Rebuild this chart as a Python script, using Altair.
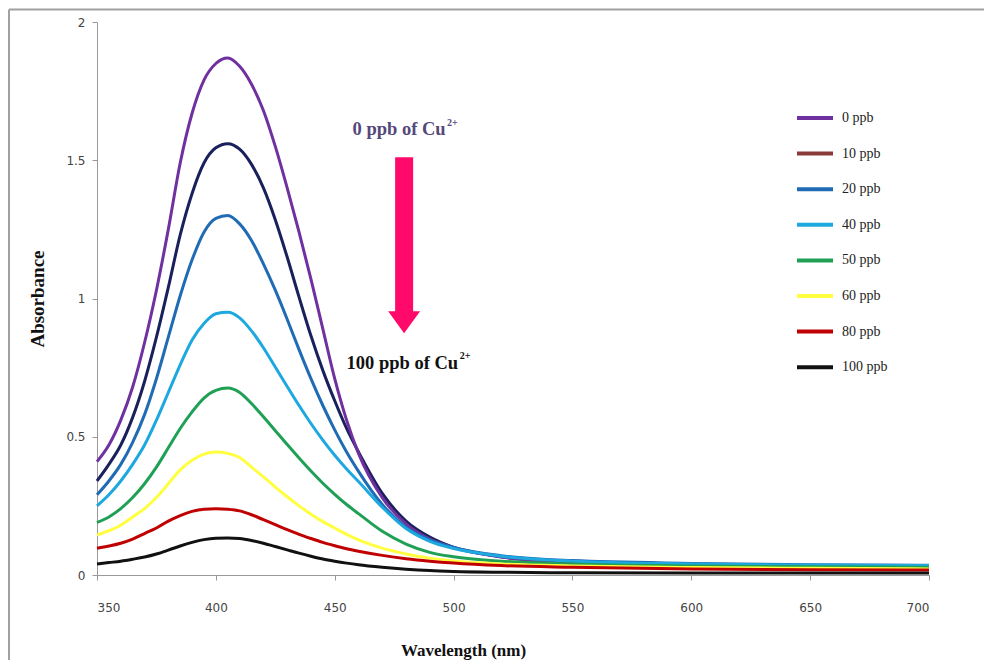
import altair as alt
import pandas as pd

# ---------------- data ----------------
wavelength = [350, 355, 360, 365, 370, 375, 380, 385, 390, 395, 400, 405, 410, 415,
              420, 425, 430, 435, 440, 445, 450, 455, 460, 470, 480, 490, 500, 520,
              550, 600, 650, 700]

abs_0 = [0.41, 0.47, 0.56, 0.68, 0.84, 1.03, 1.25, 1.49, 1.67, 1.79, 1.85, 1.87, 1.84, 1.775,
         1.68, 1.55, 1.40, 1.24, 1.07, 0.89, 0.71, 0.56, 0.44, 0.28, 0.185, 0.13, 0.10, 0.065,
         0.045, 0.035, 0.030, 0.028]
abs_10 = [0.34, 0.40, 0.47, 0.57, 0.70, 0.86, 1.04, 1.23, 1.38, 1.49, 1.545, 1.56, 1.54, 1.485,
          1.40, 1.285, 1.15, 1.005, 0.865, 0.74, 0.63, 0.53, 0.445, 0.295, 0.195, 0.137, 0.10, 0.066,
          0.047, 0.036, 0.031, 0.029]
abs_20 = [0.29, 0.34, 0.40, 0.48, 0.58, 0.71, 0.86, 1.01, 1.14, 1.24, 1.29, 1.30, 1.27, 1.21,
          1.125, 1.03, 0.925, 0.815, 0.71, 0.613, 0.525, 0.445, 0.375, 0.255, 0.173, 0.127, 0.10, 0.07,
          0.052, 0.042, 0.037, 0.035]
abs_40 = [0.25, 0.29, 0.34, 0.40, 0.47, 0.56, 0.66, 0.76, 0.85, 0.91, 0.945, 0.95, 0.93, 0.883,
          0.822, 0.752, 0.682, 0.613, 0.548, 0.488, 0.433, 0.383, 0.338, 0.245, 0.168, 0.122, 0.096, 0.068,
          0.05, 0.04, 0.036, 0.034]
abs_50 = [0.19, 0.21, 0.24, 0.28, 0.33, 0.39, 0.46, 0.53, 0.59, 0.64, 0.668, 0.676, 0.66, 0.62,
          0.572, 0.522, 0.472, 0.423, 0.376, 0.332, 0.292, 0.255, 0.222, 0.158, 0.112, 0.082, 0.066, 0.05,
          0.04, 0.033, 0.03, 0.028]
abs_60 = [0.145, 0.16, 0.18, 0.21, 0.24, 0.28, 0.33, 0.38, 0.415, 0.437, 0.445, 0.44, 0.425, 0.39,
          0.355, 0.318, 0.283, 0.25, 0.22, 0.193, 0.17, 0.147, 0.127, 0.097, 0.076, 0.061, 0.051, 0.04,
          0.033, 0.027, 0.024, 0.022]
abs_80 = [0.097, 0.105, 0.115, 0.13, 0.15, 0.17, 0.195, 0.215, 0.23, 0.238, 0.24, 0.238, 0.232, 0.218,
          0.20, 0.182, 0.164, 0.147, 0.132, 0.118, 0.106, 0.095, 0.086, 0.071, 0.059, 0.05, 0.043, 0.034,
          0.028, 0.022, 0.019, 0.018]
abs_100 = [0.04, 0.045, 0.05, 0.057, 0.065, 0.076, 0.09, 0.105, 0.118, 0.128, 0.133, 0.134, 0.132, 0.125,
           0.115, 0.103, 0.091, 0.079, 0.068, 0.058, 0.05, 0.043, 0.037, 0.028, 0.021, 0.016, 0.013, 0.01,
           0.008, 0.007, 0.007, 0.007]

series_labels = ["0 ppb", "10 ppb", "20 ppb", "40 ppb", "50 ppb", "60 ppb", "80 ppb", "100 ppb"]
legend_colors = ["#7030A0", "#8B3A3A", "#1F6BB4", "#1EA8E0", "#1FA055", "#FFFF40", "#C00000", "#111111"]
curve_10ppb_color = "#1A205C"

x_ticks = [350, 400, 450, 500, 550, 600, 650, 700]
y_ticks = [0, 0.5, 1, 1.5, 2]

annot_main = ["0 ppb of Cu", "100 ppb of Cu"]
annot_x = [457.5, 455.0]
annot_y = [1.59, 0.745]
sup_x = [497.2, 502.6]
sup_y = [1.625, 0.78]

arrow_x = [479.2]
arrow_y = [1.193]

# ---------------- build table ----------------
all_vals = [abs_0, abs_10, abs_20, abs_40, abs_50, abs_60, abs_80, abs_100]
rows = []
for lab, vals in zip(series_labels, all_vals):
    for w, a in zip(wavelength, vals):
        rows.append({"Wavelength": w, "Absorbance": a, "Series": lab})
df = pd.DataFrame(rows)

x_enc = alt.X(
    "Wavelength:Q",
    scale=alt.Scale(domain=[350, 700], nice=False, zero=False),
    axis=alt.Axis(
        values=x_ticks, title="Wavelength (nm)", grid=False,
        titleFont="Liberation Serif", titleFontSize=17, titleFontWeight="bold", titleColor="#111",
        titleX=366, titleY=75, titleAlign="center", titleBaseline="middle",
        labelFont="DejaVu Sans", labelFontSize=12, labelColor="#444", labelPadding=22,
        tickSize=5, tickColor="#999", domainColor="#999",
    ),
)
y_enc = alt.Y(
    "Absorbance:Q",
    scale=alt.Scale(domain=[0, 2], nice=False),
    axis=alt.Axis(
        values=y_ticks, format="~g", title="Absorbance", grid=False,
        titleFont="Liberation Serif", titleFontSize=19, titleFontWeight="bold", titleColor="#111",
        titleAngle=-90, titleX=-60, titleY=276.5, titleAlign="center", titleBaseline="middle",
        labelFont="DejaVu Sans", labelFontSize=12, labelColor="#444", labelPadding=7,
        tickSize=5, tickColor="#999", domainColor="#999",
    ),
)

# frame lines (top and left page border of the original figure)
border_top = alt.Chart(pd.DataFrame({"a": [0]})).mark_rule(color="#A0A0A0", strokeWidth=2).encode(
    x=alt.value(-88), x2=alt.value(887), y=alt.value(-12.5))
border_left = alt.Chart(pd.DataFrame({"a": [0]})).mark_rule(color="#A0A0A0", strokeWidth=2).encode(
    x=alt.value(-88), y=alt.value(-12.5), y2=alt.value(640))

line_10 = alt.Chart(df).transform_filter(alt.datum.Series == "10 ppb").mark_line(
    color=curve_10ppb_color, strokeWidth=3, interpolate="monotone").encode(x=x_enc, y=y_enc)

lines = alt.Chart(df).transform_filter(alt.datum.Series != "10 ppb").mark_line(
    strokeWidth=3, interpolate="monotone").encode(
    x=x_enc, y=y_enc,
    color=alt.Color(
        "Series:N",
        sort=series_labels,
        scale=alt.Scale(domain=series_labels, range=legend_colors),
        legend=alt.Legend(
            title=None, orient="none", legendX=698, legendY=76,
            symbolType="stroke", symbolSize=1296, symbolStrokeWidth=4,
            labelFont="Liberation Serif", labelFontSize=14, labelColor="#222",
            labelOffset=7, rowPadding=7.6, padding=0,
        ),
    ),
)

arrow_path = ("M -0.1023 -1 L 0.1023 -1 L 0.1023 0.75 L 0.1818 0.75 L 0 1 "
              "L -0.1818 0.75 L -0.1023 0.75 Z")
arrow = alt.Chart(pd.DataFrame({"Wavelength": arrow_x, "Absorbance": arrow_y})).mark_point(
    shape=arrow_path, size=30976, filled=True, color="#FF0A6A", opacity=1, strokeWidth=0
).encode(x=x_enc, y=y_enc)

ann_df = pd.DataFrame({"Wavelength": annot_x, "Absorbance": annot_y, "t": annot_main,
                       "c": ["top", "bottom"]})
sup_df = pd.DataFrame({"Wavelength": sup_x, "Absorbance": sup_y, "t": ["2+", "2+"],
                       "c": ["top", "bottom"]})

txt_top = alt.Chart(ann_df).transform_filter(alt.datum.c == "top").mark_text(
    align="left", baseline="alphabetic", font="Liberation Serif", fontSize=18.5,
    fontWeight="bold", color="#54487A").encode(x=x_enc, y=y_enc, text="t:N")
txt_bot = alt.Chart(ann_df).transform_filter(alt.datum.c == "bottom").mark_text(
    align="left", baseline="alphabetic", font="Liberation Serif", fontSize=18.5,
    fontWeight="bold", color="#111").encode(x=x_enc, y=y_enc, text="t:N")
sup_top = alt.Chart(sup_df).transform_filter(alt.datum.c == "top").mark_text(
    align="left", baseline="alphabetic", font="Liberation Serif", fontSize=10,
    fontWeight="bold", color="#54487A").encode(x=x_enc, y=y_enc, text="t:N")
sup_bot = alt.Chart(sup_df).transform_filter(alt.datum.c == "bottom").mark_text(
    align="left", baseline="alphabetic", font="Liberation Serif", fontSize=10,
    fontWeight="bold", color="#111").encode(x=x_enc, y=y_enc, text="t:N")

chart = alt.layer(
    border_top, border_left, line_10, lines, arrow, txt_top, txt_bot, sup_top, sup_bot
).properties(
    width=832, height=553,
    padding={"left": 89, "top": 14, "right": 55, "bottom": 85},
    autosize=alt.AutoSizeParams(type="none"),
    background="white",
).configure_view(stroke=None)

chart.save("out.html", embed_options={"renderer": "svg", "actions": False})
